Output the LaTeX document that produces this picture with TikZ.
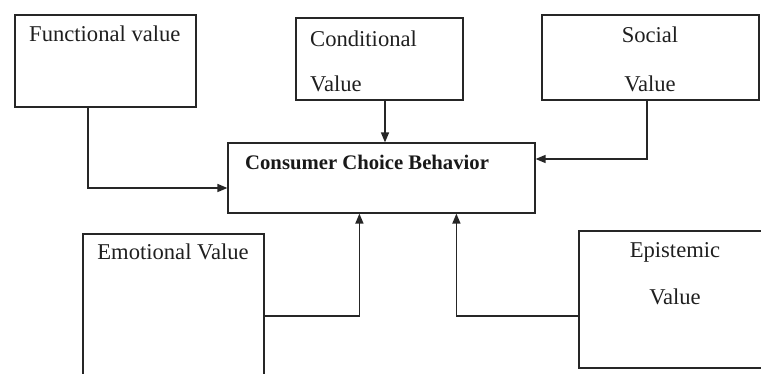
\documentclass[tikz,border=0pt]{standalone}
\usepackage{fontspec}
\setmainfont{Liberation Serif}
\usetikzlibrary{arrows.meta,calc}
\tikzset{
  box/.style={draw=black!85, line width=1.2pt, inner sep=0pt, fill=none},
  lbl/.style={inner sep=0pt, font=\fontsize{22.6}{26}\selectfont, text=black!88},
  blbl/.style={inner sep=0pt, text=black!90, font=\fontsize{20.7}{24}\selectfont\bfseries},
  arr/.style={draw=black!85, line width=1.5pt, -{Triangle[length=10pt,width=8pt]}},
}
\begin{document}
\begin{tikzpicture}[x=1pt,y=-1pt]
\useasboundingbox (0,0) rectangle (761,374);
% boxes
\node[box, minimum width=181pt, minimum height=92pt] (func) at (105.5,61) {};
\node[box, minimum width=167pt, minimum height=82pt] (cond) at (379.5,59) {};
\node[box, minimum width=217pt, minimum height=85pt] (soc) at (650.5,57.5) {};
\node[box, minimum width=307pt, minimum height=70pt] (ccb) at (381.5,178) {};
\node[box, minimum width=181pt, minimum height=150pt] (emo) at (173.5,309) {};
\node[box, minimum width=186pt, minimum height=137pt] (epi) at (672,299.5) {};
% texts
\node[lbl, anchor=base west] (tfunc) at (29,42) {Functional value};
\node[lbl, anchor=base west] (tcond1) at (310,47) {Conditional};
\node[lbl, anchor=base west] (tcond2) at (310,92) {Value};
\node[lbl, anchor=base] (tsoc1) at (650,43) {Social};
\node[lbl, anchor=base] (tsoc2) at (650,92) {Value};
\node[blbl, anchor=base west] (tccb) at (245,170) {Consumer Choice Behavior};
\node[lbl, anchor=base] (temo) at (173,260) {Emotional Value};
\node[lbl, anchor=base] (tepi1) at (675,258) {Epistemic};
\node[lbl, anchor=base] (tepi2) at (675,305) {Value};
% connectors
\coordinate (f1) at ($(func.south)+(-17.5,0)$);
\coordinate (f2) at ($(ccb.west)+(0,10)$);
\draw[arr] (f1) |- (f2);
\coordinate (c1) at ($(cond.south)+(5.5,0)$);
\draw[arr] (c1) -- (c1 |- ccb.north);
\coordinate (s1) at ($(soc.south)+(-3.5,0)$);
\coordinate (s2) at ($(ccb.east)+(0,-19)$);
\draw[arr] (s1) |- (s2);
\coordinate (e1) at ($(emo.east)+(0,7)$);
\coordinate (e2) at ($(ccb.south west)+(132,0)$);
\draw[arr] (e1) -| (e2);
\coordinate (p1) at ($(epi.west)+(0,16.5)$);
\coordinate (p2) at ($(ccb.south west)+(229,0)$);
\draw[arr] (p1) -| (p2);
\end{tikzpicture}
\end{document}
